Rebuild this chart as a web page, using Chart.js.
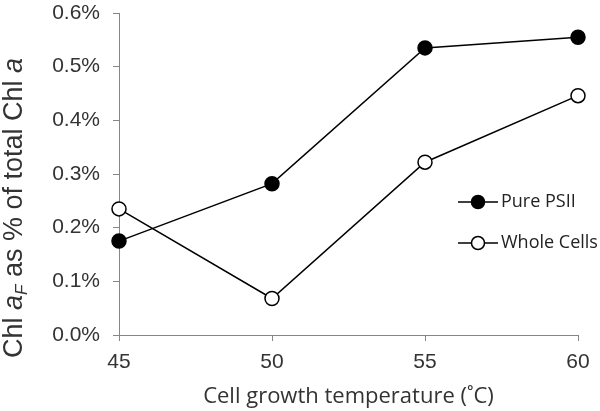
<!DOCTYPE html>
<html>
<head>
  <meta charset="UTF-8">
  <title>Chl aF vs growth temperature</title>
  <script src="https://cdn.jsdelivr.net/npm/chart.js"></script>
  <style>
    body {
      margin: 0;
      background: white;
    }
  </style>
</head>
<body>
  <canvas id="chlChart" width="600" height="411"></canvas>

  <script>
    // Data (values in %)
    const temps = ["45", "50", "55", "60"];
    const purePSII = [0.175, 0.282, 0.535, 0.555];
    const wholeCells = [0.235, 0.068, 0.322, 0.446];
    const seriesNames = ["Pure PSII", "Whole Cells"];

    const axisGrey = "#868686";
    const textCol = "#333333";

    // Draws the axis titles (with italic a and subscript F) and the legend
    const extrasPlugin = {
      id: "extras",
      afterDraw(chart) {
        const ctx = chart.ctx;
        const area = chart.chartArea;

        // Y title
        const size = 27;
        const parts = [
          { t: "Chl ", f: `${size}px "Liberation Sans", Arial`, dy: 0 },
          { t: "a", f: `italic ${size}px "Liberation Sans", Arial`, dy: 0 },
          { t: "F", f: `italic ${Math.round(size * 0.62)}px "Liberation Sans", Arial`, dy: 5 },
          { t: " as % of total Chl ", f: `${size}px "Liberation Sans", Arial`, dy: 0 },
          { t: "a", f: `italic ${size}px "Liberation Sans", Arial`, dy: 0 }
        ];
        ctx.save();
        let total = 0;
        parts.forEach(p => { ctx.font = p.f; p.w = ctx.measureText(p.t).width; total += p.w; });
        ctx.translate(22, 208);
        ctx.rotate(-Math.PI / 2);
        ctx.fillStyle = textCol;
        ctx.textBaseline = "alphabetic";
        ctx.textAlign = "left";
        let x = -total / 2;
        parts.forEach(p => {
          ctx.font = p.f;
          ctx.fillText(p.t, x, p.dy);
          x += p.w;
        });
        ctx.restore();

        // X title
        ctx.save();
        ctx.font = '22px "Open Sans", sans-serif';
        ctx.fillStyle = textCol;
        ctx.textAlign = "center";
        ctx.textBaseline = "middle";
        ctx.fillText("Cell growth temperature (\u02DAC)", (area.left + area.right) / 2, 397);
        ctx.restore();

        // Legend
        const rows = [202, 243];
        chart.data.datasets.forEach((ds, i) => {
          const y = rows[i];
          ctx.save();
          ctx.strokeStyle = ds.borderColor;
          ctx.lineWidth = 1.5;
          ctx.beginPath();
          ctx.moveTo(458, y);
          ctx.lineTo(498, y);
          ctx.stroke();
          ctx.beginPath();
          ctx.arc(478, y, 6.5, 0, Math.PI * 2);
          ctx.fillStyle = ds.pointBackgroundColor;
          ctx.fill();
          ctx.stroke();
          ctx.font = '18px "Open Sans", sans-serif';
          ctx.fillStyle = "#222";
          ctx.textAlign = "left";
          ctx.textBaseline = "middle";
          ctx.fillText(ds.label, 501, y);
          ctx.restore();
        });
      }
    };

    new Chart(document.getElementById("chlChart").getContext("2d"), {
      type: "line",
      data: {
        labels: temps,
        datasets: [
          {
            label: seriesNames[0],
            data: purePSII,
            borderColor: "#000",
            borderWidth: 1.5,
            pointRadius: 7,
            pointBorderWidth: 1.5,
            pointBackgroundColor: "#000",
            pointBorderColor: "#000",
            tension: 0,
            fill: false,
            clip: false
          },
          {
            label: seriesNames[1],
            data: wholeCells,
            borderColor: "#000",
            borderWidth: 1.5,
            pointRadius: 7,
            pointBorderWidth: 1.5,
            pointBackgroundColor: "#fff",
            pointBorderColor: "#000",
            tension: 0,
            fill: false,
            clip: false
          }
        ]
      },
      options: {
        responsive: false,
        animation: false,
        layout: { padding: { top: 13, right: 22, left: 0, bottom: 0 } },
        plugins: {
          legend: { display: false },
          tooltip: { enabled: false }
        },
        scales: {
          x: {
            offset: false,
            grid: { drawOnChartArea: false, color: axisGrey, tickLength: 6 },
            border: { color: axisGrey, width: 1 },
            ticks: {
              color: textCol,
              padding: 9,
              maxRotation: 0,
              font: { family: '"Liberation Sans", Arial', size: 21 }
            },
            afterFit: scale => { scale.height = 76; }
          },
          y: {
            min: 0,
            max: 0.6,
            grid: { drawOnChartArea: false, color: axisGrey, tickLength: 6 },
            border: { color: axisGrey, width: 1 },
            ticks: {
              stepSize: 0.1,
              color: textCol,
              padding: 13,
              font: { family: '"Liberation Sans", Arial', size: 21 },
              callback: v => v.toFixed(1) + "%"
            },
            afterFit: scale => {
              scale.width = 119;
              scale.paddingTop = 0;
              scale.paddingBottom = 0;
            }
          }
        }
      },
      plugins: [extrasPlugin]
    });
  </script>
</body>
</html>
